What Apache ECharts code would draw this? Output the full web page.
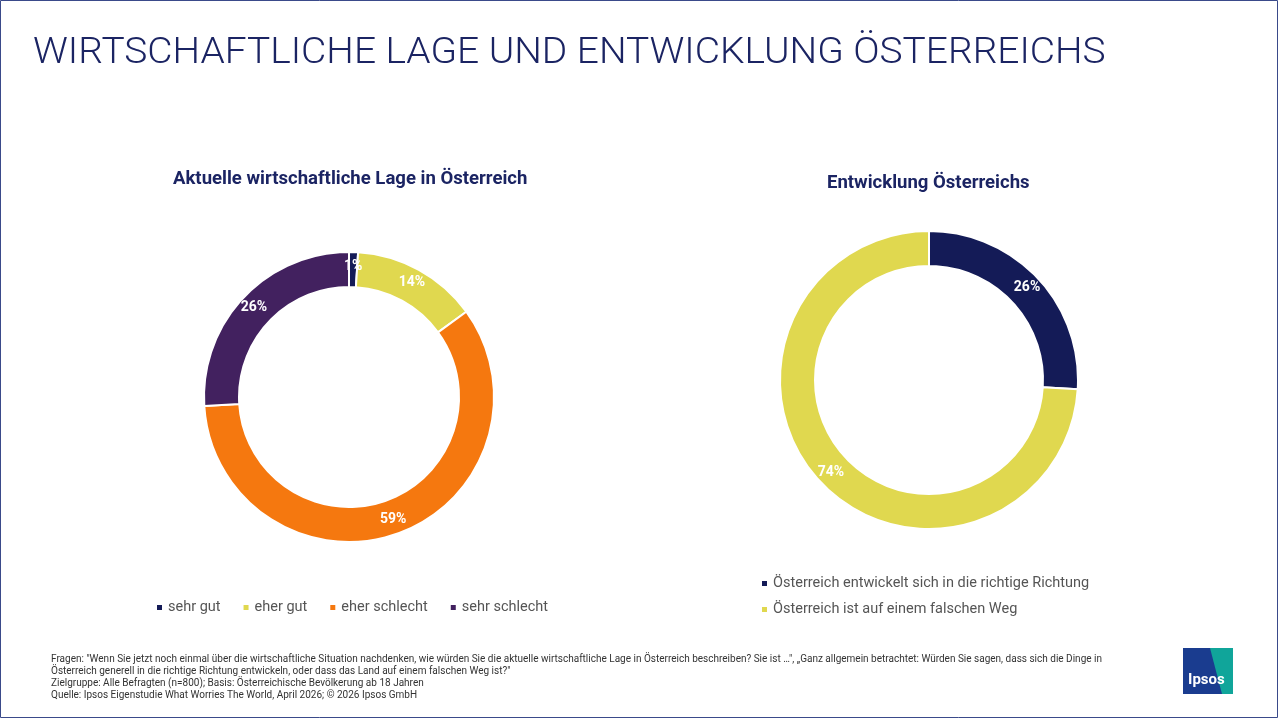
<!DOCTYPE html>
<html><head><meta charset="utf-8">
<script src="https://cdn.jsdelivr.net/npm/echarts@6/dist/echarts.min.js"></script>
<style>html,body{margin:0;padding:0;background:#fff}#c{width:1280px;height:720px}</style>
</head><body><div id="c"></div>
<script>
const leftCats = ['sehr gut','eher gut','eher schlecht','sehr schlecht'];
const leftVals = [1,14,59,26];
const leftColors = ['#141b57','#e0d84f','#f5780f','#42215f'];
const rightCats = ['Österreich entwickelt sich in die richtige Richtung','Österreich ist auf einem falschen Weg'];
const rightVals = [26,74];
const rightColors = ['#141b57','#e0d84f'];
const footer = [
 'Fragen: "Wenn Sie jetzt noch einmal über die wirtschaftliche Situation nachdenken, wie würden Sie die aktuelle wirtschaftliche Lage in Österreich beschreiben? Sie ist …", „Ganz allgemein betrachtet: Würden Sie sagen, dass sich die Dinge in',
 'Österreich generell in die richtige Richtung entwickeln, oder dass das Land auf einem falschen Weg ist?"',
 'Zielgruppe: Alle Befragten (n=800); Basis: Österreichische Bevölkerung ab 18 Jahren',
 'Quelle: Ipsos Eigenstudie What Worries The World, April 2026; © 2026 Ipsos GmbH'
];
const F = 'Roboto, "Noto Sans", sans-serif';
const chart = echarts.init(document.getElementById('c'));
function mk(cats, vals, cols){return cats.map((n,i)=>({name:n,value:vals[i],itemStyle:{color:cols[i]}}));}
const lbl = {show:true,position:'inside',formatter:'{c}%',color:'#fff',fontWeight:'bold',fontSize:14,fontFamily:F};
chart.setOption({
 animation:false,
 graphic:[
  {type:'rect',shape:{x:0.5,y:0.5,width:1277,height:717},style:{fill:'none',stroke:'#3a4a8a',lineWidth:1}},
  {type:'text',x:33,y:36,scaleX:1.08,style:{text:'WIRTSCHAFTLICHE LAGE UND ENTWICKLUNG ÖSTERREICHS',fill:'#1b2463',font:'300 36px '+F}},
  {type:'text',x:173,y:170,scaleX:1.03,style:{text:'Aktuelle wirtschaftliche Lage in Österreich',fill:'#1b2463',font:'bold 18px '+F}},
  {type:'text',x:827,y:174,scaleX:1.03,style:{text:'Entwicklung Österreichs',fill:'#1b2463',font:'bold 18px '+F}},
  {type:'text',left:51,top:653,style:{text:footer.join('\n'),fill:'#333',font:'10px "Liberation Sans Narrow", '+F,lineHeight:12}},
  {type:'rect',shape:{x:1183,y:648,width:50,height:46},style:{fill:'#1a3c8f'}},
  {type:'polygon',shape:{points:[[1210,648],[1233,648],[1233,694],[1222,694]]},style:{fill:'#10a59a'}},
  {type:'text',left:1188,top:673,style:{text:'Ipsos',fill:'#fff',font:'bold 15px '+F}}
 ],
 legend:[
  {data:leftCats,left:150,top:595,itemWidth:7,itemHeight:7,icon:'rect',itemGap:21,textStyle:{color:'#555',fontSize:14.5,fontFamily:F}},
  {data:rightCats,orient:'vertical',left:755,top:571,itemWidth:7,itemHeight:7,icon:'rect',itemGap:11,textStyle:{color:'#555',fontSize:14.5,fontFamily:F}}
 ],
 series:[
  {type:'pie',center:[349,397],radius:[110,145],startAngle:90,clockwise:true,data:mk(leftCats,leftVals,leftColors),
   itemStyle:{borderColor:'#fff',borderWidth:2},label:lbl,labelLine:{show:false}},
  {type:'pie',center:[929,380],radius:[114,149],startAngle:90,clockwise:true,data:mk(rightCats,rightVals,rightColors),
   itemStyle:{borderColor:'#fff',borderWidth:2},label:lbl,labelLine:{show:false}}
 ]
});
</script></body></html>
